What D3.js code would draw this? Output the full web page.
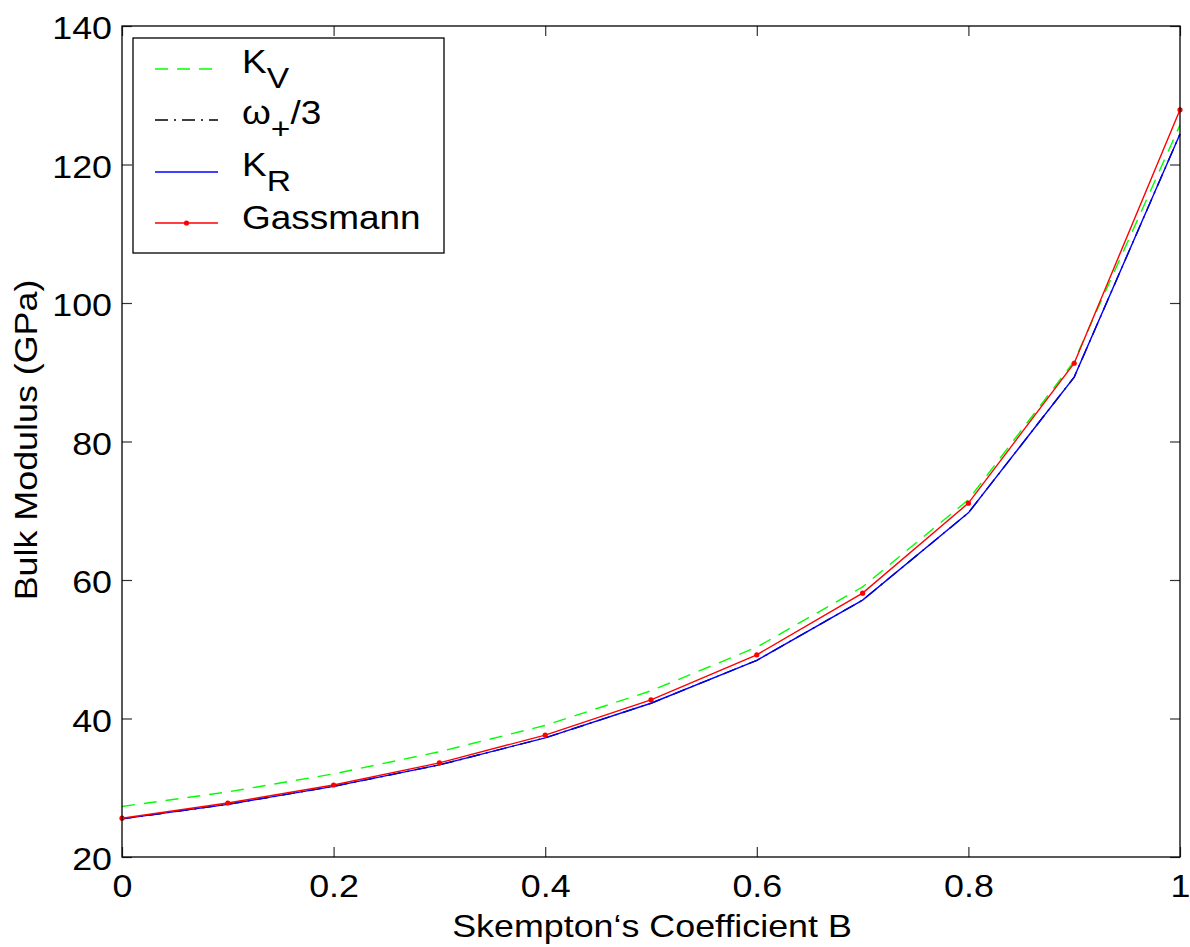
<!DOCTYPE html>
<html>
<head>
<meta charset="utf-8">
<script src="https://cdn.jsdelivr.net/npm/d3@7"></script>
<style>
  body { margin: 0; background: #fff; }
  svg text { font-family: "Liberation Sans", Arial, Helvetica, sans-serif; fill: #000; }
</style>
</head>
<body>
<div id="root"></div>
<script>
// Skempton's coefficient B
const bValues = [0, 0.1, 0.2, 0.3, 0.4, 0.5, 0.6, 0.7, 0.8, 0.9, 1.0];
// bulk moduli (GPa)
const kVoigt = [27.3, 29.4, 32.0, 35.2, 39.0, 44.0, 50.3, 59.0, 71.6, 91.6, 125.7];
const omegaPlus3 = [25.5, 27.6, 30.2, 33.3, 37.2, 42.2, 48.4, 57.1, 69.7, 89.3, 124.4];
const kReuss = [25.5, 27.6, 30.2, 33.3, 37.2, 42.2, 48.4, 57.1, 69.7, 89.3, 124.4];
const gassmann = [25.6, 27.8, 30.4, 33.6, 37.6, 42.7, 49.2, 58.1, 71.1, 91.3, 127.9];

const xTicks = [0, 0.2, 0.4, 0.6, 0.8, 1];
const yTicks = [20, 40, 60, 80, 100, 120, 140];

const W = 1190, H = 947;
const pLeft = 122, pRight = 1180, pTop = 26, pBottom = 857;
const fs = 32, stretch = 1.12;

let svg = d3.select("#root").append("svg").attr("width", W).attr("height", H);

let x = d3.scaleLinear().domain([0, 1]).range([pLeft, pRight]);
let y = d3.scaleLinear().domain([20, 140]).range([pBottom, pTop]);

// series, drawn in matlab order
let series = [
  { name: "KV", data: kVoigt, color: "#00ff00", dash: "13,9" },
  { name: "omega", data: omegaPlus3, color: "#000", dash: "13,6,2,6" },
  { name: "KR", data: kReuss, color: "#0000ff", dash: null },
  { name: "Gassmann", data: gassmann, color: "#ff0000", dash: null, dots: true }
];

let line = d3.line()
  .x((d, i) => x(bValues[i]))
  .y(d => y(d));

let plot = svg.append("g");
series.forEach(s => {
  plot.append("path")
    .datum(s.data)
    .attr("d", line)
    .attr("fill", "none")
    .attr("stroke", s.color)
    .attr("stroke-width", 1.4)
    .attr("stroke-dasharray", s.dash);
  if (s.dots) {
    plot.append("g").selectAll("circle")
      .data(s.data)
      .enter()
      .append("circle")
      .attr("cx", (d, i) => x(bValues[i]))
      .attr("cy", d => y(d))
      .attr("r", 2.6)
      .attr("fill", s.color);
  }
});

// axes: ticks inward on all four sides
const tickLen = 10;
let gx = svg.append("g").attr("transform", "translate(0," + pBottom + ")")
  .call(d3.axisBottom(x).tickValues(xTicks).tickSizeInner(-tickLen).tickSizeOuter(0).tickPadding(17)
    .tickFormat(d => d === 0 || d === 1 ? d3.format("d")(d) : d3.format(".1f")(d)));
let gy = svg.append("g").attr("transform", "translate(" + pLeft + ",0)")
  .call(d3.axisLeft(y).tickValues(yTicks).tickSizeInner(-tickLen).tickSizeOuter(0).tickPadding(10));
let gxTop = svg.append("g").attr("transform", "translate(0," + pTop + ")")
  .call(d3.axisTop(x).tickValues(xTicks).tickSizeInner(-tickLen).tickSizeOuter(0).tickFormat(""));
let gyRight = svg.append("g").attr("transform", "translate(" + pRight + ",0)")
  .call(d3.axisRight(y).tickValues(yTicks).tickSizeInner(-tickLen).tickSizeOuter(0).tickFormat(""));

[gx, gy, gxTop, gyRight].forEach(g => {
  g.select(".domain").remove();
  g.selectAll(".tick line").attr("stroke", "#333").attr("stroke-width", 1.2);
});
[gx, gy].forEach(g => {
  g.selectAll(".tick text")
    .attr("font-size", fs)
    .attr("fill", "#000")
    .attr("transform", "scale(" + stretch + ",1)");
});
gy.selectAll(".tick text").attr("dy", "0.4em").attr("x", -10 / stretch);

// box
svg.append("rect")
  .attr("x", pLeft).attr("y", pTop)
  .attr("width", pRight - pLeft).attr("height", pBottom - pTop)
  .attr("fill", "none").attr("stroke", "#000").attr("stroke-width", 1.3);

// axis labels
svg.append("text")
  .attr("transform", "translate(652,937) scale(" + stretch + ",1)")
  .attr("text-anchor", "middle")
  .attr("font-size", fs)
  .text("Skempton\u2018s Coefficient B");

svg.append("text")
  .attr("transform", "translate(37,440) rotate(-90) scale(" + stretch + ",1)")
  .attr("text-anchor", "middle")
  .attr("font-size", fs)
  .text("Bulk Modulus (GPa)");

// legend
let lg = svg.append("g");
lg.append("rect")
  .attr("x", 133).attr("y", 38).attr("width", 311).attr("height", 215)
  .attr("fill", "#fff").attr("stroke", "#000").attr("stroke-width", 1.3);

const legendY = [69, 120, 172, 223];
const legendFs = 33;
series.forEach((s, i) => {
  let yy = legendY[i];
  lg.append("line")
    .attr("x1", 155).attr("x2", 218).attr("y1", yy).attr("y2", yy)
    .attr("stroke", s.color).attr("stroke-width", 1.4)
    .attr("stroke-dasharray", s.dash);
  if (s.dots) {
    lg.append("circle").attr("cx", 186.5).attr("cy", yy).attr("r", 2.6).attr("fill", s.color);
  }
  let t = lg.append("text")
    .attr("transform", "translate(242," + (yy + 4) + ") scale(" + stretch + ",1)")
    .attr("font-size", legendFs);
  if (s.name === "KV") {
    t.append("tspan").text("K");
    t.append("tspan").attr("dy", 15).attr("font-size", 30).text("V");
  } else if (s.name === "omega") {
    t.append("tspan").text("\u03c9");
    t.append("tspan").attr("dy", 15).attr("font-size", 30).text("+");
    t.append("tspan").attr("dy", -15).text("/3");
  } else if (s.name === "KR") {
    t.append("tspan").text("K");
    t.append("tspan").attr("dy", 15).attr("font-size", 30).text("R");
  } else {
    t.attr("transform", "translate(242," + (yy + 6) + ") scale(" + stretch + ",1)").text("Gassmann");
  }
});
</script>
</body>
</html>
